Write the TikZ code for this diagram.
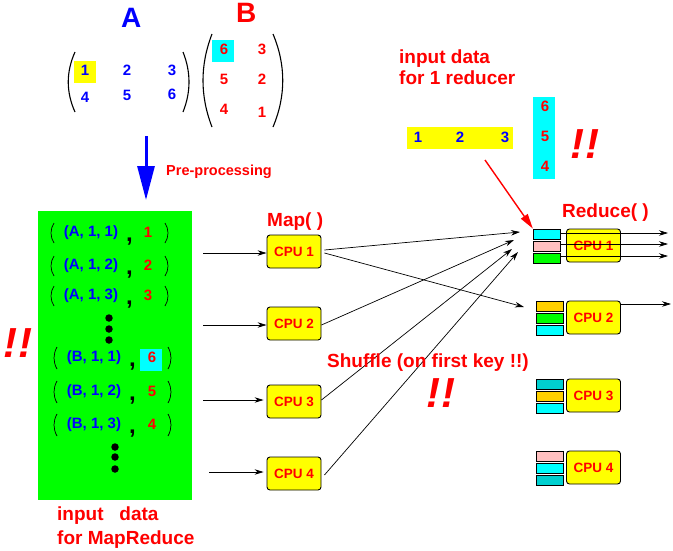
\documentclass[tikz,border=0pt]{standalone}
\usepackage{fontspec}
\setmainfont{Liberation Sans}
\usetikzlibrary{arrows.meta}
\definecolor{qpink}{RGB}{255,192,192}
\definecolor{qgold}{RGB}{255,208,0}
\definecolor{qteal}{RGB}{0,208,208}
\definecolor{mgreen}{RGB}{0,255,0}
\definecolor{mcyan}{RGB}{0,255,255}
\definecolor{myellow}{RGB}{255,255,0}
\definecolor{mblue}{RGB}{0,0,255}
\definecolor{mred}{RGB}{255,0,0}
\tikzset{
  lab/.style={inner sep=0pt,text=mred,font=\fontsize{#1}{#1}\selectfont\bfseries},
  txt/.style={lab=#1,anchor=base west},
  bang/.style={inner sep=0pt,text=mred,anchor=base west,font=\fontsize{42}{42}\selectfont\bfseries\itshape},
  num/.style={lab=15},
  bnum/.style={lab=15,text=mblue},
  cpu/.style={draw=black,fill=myellow,rounded corners=3pt,line width=.9pt,inner sep=0pt,
    minimum width=54pt,minimum height=33pt,lab=13.5},
  queue/.style={draw=black,line width=.8pt,inner sep=0pt,minimum width=27.5pt,minimum height=10pt},
  flow/.style={line width=.7pt,-{Stealth[length=9pt,width=5.5pt]}},
  paren/.style={line width=1.1pt},
  sparen/.style={line width=.7pt},
  dot/.style={circle,fill=black,inner sep=0pt,minimum size=7.5pt},
}
\begin{document}
\begin{tikzpicture}[x=1pt,y=-1pt]
  \useasboundingbox (0,0) rectangle (673,550);

  % matrices
  \node[txt=28,text=mblue] (ta) at (121,27) {A};
  \node[txt=28] (tb) at (236,22) {B};
  \fill[myellow] (74,61) rectangle (96,83);
  \fill[mcyan] (212,40) rectangle (234,62);
  \draw[paren] (75,52) .. controls (66,72) and (66,92) .. (75,112);
  \draw[paren] (183,52) .. controls (191,72) and (191,92) .. (183,112);
  \draw[paren] (212,34) .. controls (200,65) and (200,96) .. (212,127);
  \draw[paren] (273,34) .. controls (286,65) and (286,96) .. (273,127);
  \foreach \v/\x/\y in {1/85/70,2/127/70,3/172/70,4/85/97,5/127/95,6/172/94}
    \node[bnum] (a\v) at (\x,\y) {\v};
  \foreach \v/\x/\y in {6/224/49,3/262/49,5/224/79,2/262/79,4/224/109,1/262/112}
    \node[num] (b\v) at (\x,\y) {\v};

  % pre-processing
  \coordinate (pa) at (146,136);
  \coordinate (pb) at (146,200);
  \draw[mblue,line width=3pt,-{Triangle[length=34pt,width=17pt]}] (pa) -- (pb);
  \node[txt=14.5] (pre) at (166,175) {Pre-processing};

  % input data
  \fill[mgreen] (38,211) rectangle (192,500);
  \fill[mcyan] (140,349) rectangle (162,371);
  \foreach \n/\v/\y in {1/1/233,2/2/266,3/3/296}{
    \draw[sparen] (54,\y-10) .. controls (50,\y-4) and (50,\y+4) .. (54,\y+10);
    \draw[sparen] (165,\y-10) .. controls (169,\y-4) and (169,\y+4) .. (165,\y+10);
    \node[bnum] (ka\n) at (91,\y) {(A, 1, \n)};
    \node[txt=24,text=black] (ca\n) at (126,\y+8) {,};
    \node[num] (va\n) at (148,\y-1) {\v};
  }
  \foreach \n/\v/\y in {1/6/358,2/5/392,3/4/425}{
    \draw[sparen] (57,\y-11) .. controls (53,\y-4) and (53,\y+4) .. (57,\y+11);
    \draw[sparen] (168,\y-11) .. controls (172,\y-4) and (172,\y+4) .. (168,\y+11);
    \node[bnum] (kb\n) at (94,\y) {(B, 1, \n)};
    \node[txt=24,text=black] (cb\n) at (129,\y+8) {,};
    \node[num] (vb\n) at (152,\y-1) {\v};
  }
  \foreach \n/\x/\y in {1/109/318,2/109/329,3/109/340,4/115/447,5/115/457,6/115/469}
    \node[dot] (d\n) at (\x,\y) {};
  \node[txt=19,align=left] (inp) at (57,544) {input\ \ \ data\\[5pt]for MapReduce};
  \node[bang] (b1) at (3,357) {!\kern1pt!};

  % map
  \node[txt=19] (map) at (267,226) {Map( )};
  \foreach \n/\y in {1/251.5,2/323.5,3/401.5,4/473.5}
    \node[cpu] (m\n) at (294,\y) {CPU \n};
  \coordinate (i1) at (203,253);
  \coordinate (i2) at (203,325);
  \coordinate (i3) at (203,400);
  \coordinate (i4) at (209,472);
  \draw[flow] (i1) -- (i1 -| m1.west);
  \draw[flow] (i2) -- (i2 -| m2.west);
  \draw[flow,shorten >=3pt] (i3) -- (i3 -| m3.west);
  \draw[flow,shorten >=3pt] (i4) -- (i4 -| m4.west);

  % reduce
  \node[txt=19] (red) at (562,217) {Reduce( )};
  \foreach \n/\y in {1/245.5,2/317.5,3/395.5,4/467.5}
    \node[cpu] (r\n) at (593.5,\y) {CPU \n};
  \foreach \n/\c/\x/\y in {1a/mcyan/547/234,1b/qpink/547/246,1c/mgreen/547/258,
      2a/qgold/550/306,2b/mgreen/550/318,2c/mcyan/550/330,
      3a/qteal/550/384,3b/qgold/550/396,3c/mcyan/550/408,
      4a/qpink/550/456,4b/mcyan/550/468,4c/qteal/550/480}
    \node[queue,fill=\c] (q\n) at (\x,\y) {};

  % outputs
  \coordinate (o1) at (668,233);
  \coordinate (o2) at (668,244);
  \coordinate (o3) at (668,256);
  \coordinate (o4) at (671,304);
  \coordinate (o5) at (620,304);
  \draw[flow] (q1a.east |- o1) -- (o1);
  \draw[flow] (q1b.east |- o2) -- (o2);
  \draw[flow] (q1c.east |- o3) -- (o3);
  \draw[flow] (o5) -- (o4);

  % shuffle
  \coordinate (s1) at (520,232);
  \coordinate (s2) at (524,307);
  \coordinate (s3) at (514,240);
  \coordinate (s4) at (512,249);
  \coordinate (s5) at (518,252);
  \draw[flow] ([shift={(3,-1.5)}]m1.east) -- (s1);
  \draw[flow] ([shift={(3,1.5)}]m1.east) -- (s2);
  \draw[flow] ([yshift=-1.5pt]m2.east) -- (s3);
  \draw[flow] ([yshift=1.5pt]m3.east) -- (s4);
  \draw[flow] ([shift={(3,1.5)}]m4.east) -- (s5);
  \node[txt=19] (shu) at (327,367) {Shuffle (on first key !!)};
  \node[bang] (b2) at (426,407) {!\kern1pt!};

  % input for one reducer
  \node[txt=19,align=left] (one) at (399,84) {input data\\[2pt]for 1 reducer};
  \fill[myellow] (407,127) rectangle (513,149);
  \fill[mcyan] (533,97) rectangle (555,179);
  \foreach \v/\x in {1/418,2/460,3/505}
    \node[bnum] (y\v) at (\x,137) {\v};
  \foreach \v/\y in {6/106,5/136,4/166}
    \node[num] (c\v) at (545,\y) {\v};
  \node[bang] (b3) at (570,158) {!\kern1pt!};
  \coordinate (ra) at (485,160);
  \draw[mred,line width=1.4pt,-{Triangle[length=15pt,width=8pt]}] (ra) -- (q1a.north west);
\end{tikzpicture}
\end{document}
